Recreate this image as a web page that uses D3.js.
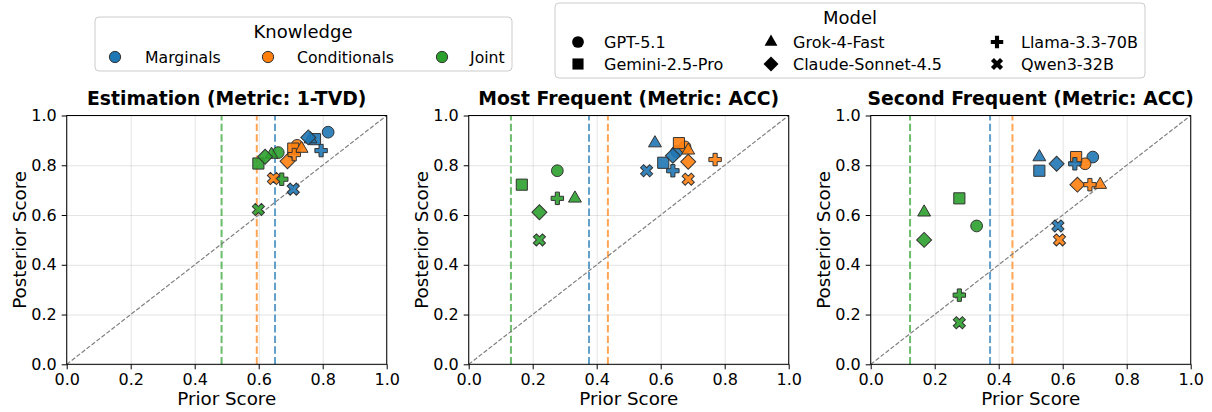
<!DOCTYPE html>
<html><head><meta charset="utf-8">
<script src="https://cdn.jsdelivr.net/npm/d3@7"></script>
<style>
body{margin:0;background:#fff;}
svg{font-family:"DejaVu Sans",sans-serif;}
</style></head>
<body><svg id="c" width="1212" height="412"></svg>
<script>
const models = ["GPT-5.1","Gemini-2.5-Pro","Grok-4-Fast","Claude-Sonnet-4.5","Llama-3.3-70B","Qwen3-32B"];
const knowledge = ["Marginals","Conditionals","Joint"];
const panelTitles = ["Estimation (Metric: 1-TVD)","Most Frequent (Metric: ACC)","Second Frequent (Metric: ACC)"];
const tickValues = [0,0.2,0.4,0.6,0.8,1.0];

// Estimation (rows: Marginals, Conditionals, Joint; columns: models)
const estPrior = [[0.817,0.776,0.762,0.755,0.795,0.708],[0.720,0.708,0.734,0.690,0.711,0.646],[0.661,0.599,0.640,0.620,0.672,0.599]];
const estPost  = [[0.933,0.905,0.905,0.912,0.859,0.704],[0.880,0.867,0.867,0.816,0.843,0.747],[0.851,0.807,0.843,0.834,0.744,0.622]];
const estBaseline = [0.651,0.594,0.484];
// Most Frequent
const mfPrior = [[0.650,0.608,0.582,0.638,0.638,0.556],[0.676,0.657,0.686,0.686,0.770,0.686],[0.277,0.166,0.332,0.221,0.277,0.221]];
const mfPost  = [[0.855,0.810,0.889,0.838,0.778,0.778],[0.874,0.889,0.860,0.814,0.823,0.744],[0.778,0.722,0.667,0.611,0.667,0.500]];
const mfBaseline = [0.376,0.435,0.132];
// Second Frequent
const sfPrior = [[0.694,0.527,0.527,0.581,0.638,0.585],[0.670,0.642,0.717,0.646,0.685,0.590],[0.331,0.277,0.167,0.167,0.277,0.277]];
const sfPost  = [[0.833,0.778,0.833,0.806,0.806,0.556],[0.806,0.833,0.722,0.722,0.722,0.500],[0.556,0.667,0.611,0.500,0.278,0.167]];
const sfBaseline = [0.373,0.443,0.123];

const colors = ["#1f77b4","#ff7f0e","#2ca02c"];
const panels = [
  {prior: estPrior, post: estPost, base: estBaseline},
  {prior: mfPrior, post: mfPost, base: mfBaseline},
  {prior: sfPrior, post: sfPost, base: sfBaseline}
];

const markerDefs = [
  {type: d3.symbolCircle, size: 108, rot: 0},
  {type: d3.symbolSquare, size: 124, rot: 0},
  {type: d3.symbolTriangle, size: 72, rot: 0},
  {type: d3.symbolSquare, size: 112, rot: 45},
  {type: d3.symbolCross, size: 86, rot: 0},
  {type: d3.symbolCross, size: 92, rot: 45}
];
function symPath(i){ return d3.symbol().type(markerDefs[i].type).size(markerDefs[i].size)(); }

const svg = d3.select("#c");
const lefts = [66.7, 468.7, 870.7];
const W = 320, plotTop = 115.5, plotBottom = 364.3;

panels.forEach((p, pi) => {
  const x = d3.scaleLinear().domain([0,1]).range([lefts[pi], lefts[pi]+W]);
  const y = d3.scaleLinear().domain([0,1]).range([plotBottom, plotTop]);
  const g = svg.append("g");
  // grid
  g.append("g").attr("transform",`translate(0,${plotBottom})`)
    .call(d3.axisBottom(x).tickValues(tickValues).tickSize(-(plotBottom-plotTop)).tickFormat(""))
    .call(s=>{s.select(".domain").remove(); s.selectAll("line").attr("stroke","#b0b0b0").attr("stroke-opacity",0.35);});
  g.append("g").attr("transform",`translate(${lefts[pi]},0)`)
    .call(d3.axisLeft(y).tickValues(tickValues).tickSize(-W).tickFormat(""))
    .call(s=>{s.select(".domain").remove(); s.selectAll("line").attr("stroke","#b0b0b0").attr("stroke-opacity",0.35);});
  // baselines
  p.base.forEach((b, ki) => {
    g.append("line").attr("x1",x(b)).attr("x2",x(b)).attr("y1",y(0)).attr("y2",y(1))
      .attr("stroke",colors[ki]).attr("stroke-width",2).attr("stroke-opacity",0.7)
      .attr("stroke-dasharray","7.4,3.2");
  });
  // diagonal
  g.append("line").attr("x1",x(0)).attr("y1",y(0)).attr("x2",x(1)).attr("y2",y(1))
    .attr("stroke","#808080").attr("stroke-width",1.2).attr("stroke-dasharray","4.4,1.9");
  // points (model outer, knowledge inner)
  models.forEach((m, mi) => {
    knowledge.forEach((k, ki) => {
      g.append("path").attr("d", symPath(mi))
        .attr("transform",`translate(${x(p.prior[ki][mi])},${y(p.post[ki][mi])}) rotate(${markerDefs[mi].rot})`)
        .attr("fill",colors[ki]).attr("fill-opacity",0.9)
        .attr("stroke","#333").attr("stroke-width",1);
    });
  });
  // frame
  g.append("rect").attr("x",lefts[pi]).attr("y",plotTop).attr("width",W).attr("height",plotBottom-plotTop)
    .attr("fill","none").attr("stroke","#000").attr("stroke-width",1);
  // axes
  const ax = g.append("g").attr("transform",`translate(0,${plotBottom})`)
    .call(d3.axisBottom(x).tickValues(tickValues).tickFormat(d3.format(".1f")).tickSize(5).tickPadding(4));
  const ay = g.append("g").attr("transform",`translate(${lefts[pi]},0)`)
    .call(d3.axisLeft(y).tickValues(tickValues).tickFormat(d3.format(".1f")).tickSize(5).tickPadding(5));
  [ax, ay].forEach(a => {
    a.select(".domain").remove();
    a.selectAll("text").attr("font-size",16).attr("font-family","DejaVu Sans").attr("fill","#000");
    a.selectAll("line").attr("stroke","#000");
  });
  // labels
  g.append("text").attr("x",lefts[pi]+W/2).attr("y",105).attr("text-anchor","middle")
    .attr("font-size",18.8).attr("font-weight","bold").text(panelTitles[pi]);
  g.append("text").attr("x",lefts[pi]+W/2).attr("y",405).attr("text-anchor","middle")
    .attr("font-size",18.3).text("Prior Score");
  g.append("text").attr("transform",`translate(${lefts[pi]-41},${(plotTop+plotBottom)/2}) rotate(-90)`)
    .attr("text-anchor","middle").attr("font-size",18.3).text("Posterior Score");
});

// Knowledge legend
const kl = svg.append("g");
kl.append("rect").attr("x",95).attr("y",17).attr("width",417).attr("height",54).attr("rx",4)
  .attr("fill","#fff").attr("stroke","#ccc").attr("stroke-width",1);
kl.append("text").attr("x",303).attr("y",38).attr("text-anchor","middle").attr("font-size",18).text("Knowledge");
const kmx = [115, 268, 442], ktx = [145, 297, 470];
knowledge.forEach((k, ki) => {
  kl.append("path").attr("d", d3.symbol().type(d3.symbolCircle).size(100)())
    .attr("transform",`translate(${kmx[ki]},57)`).attr("fill",colors[ki]).attr("stroke","#333").attr("stroke-width",1);
  kl.append("text").attr("x",ktx[ki]).attr("y",62.5).attr("font-size",15.7).text(k);
});

// Model legend
const ml = svg.append("g");
ml.append("rect").attr("x",555).attr("y",3).attr("width",590).attr("height",75).attr("rx",4)
  .attr("fill","#fff").attr("stroke","#ccc").attr("stroke-width",1);
ml.append("text").attr("x",850).attr("y",24).attr("text-anchor","middle").attr("font-size",18).text("Model");
const mmx = [578, 771, 997], mtx = [604, 793, 1021], mry = [42, 64];
models.forEach((m, mi) => {
  const col = Math.floor(mi/2), row = mi%2;
  ml.append("path").attr("d", symPath(mi))
    .attr("transform",`translate(${mmx[col]},${mry[row]}) rotate(${markerDefs[mi].rot})`)
    .attr("fill","#000");
  ml.append("text").attr("x",mtx[col]).attr("y",mry[row]+5.5).attr("font-size",16).text(m);
});
</script></body></html>
